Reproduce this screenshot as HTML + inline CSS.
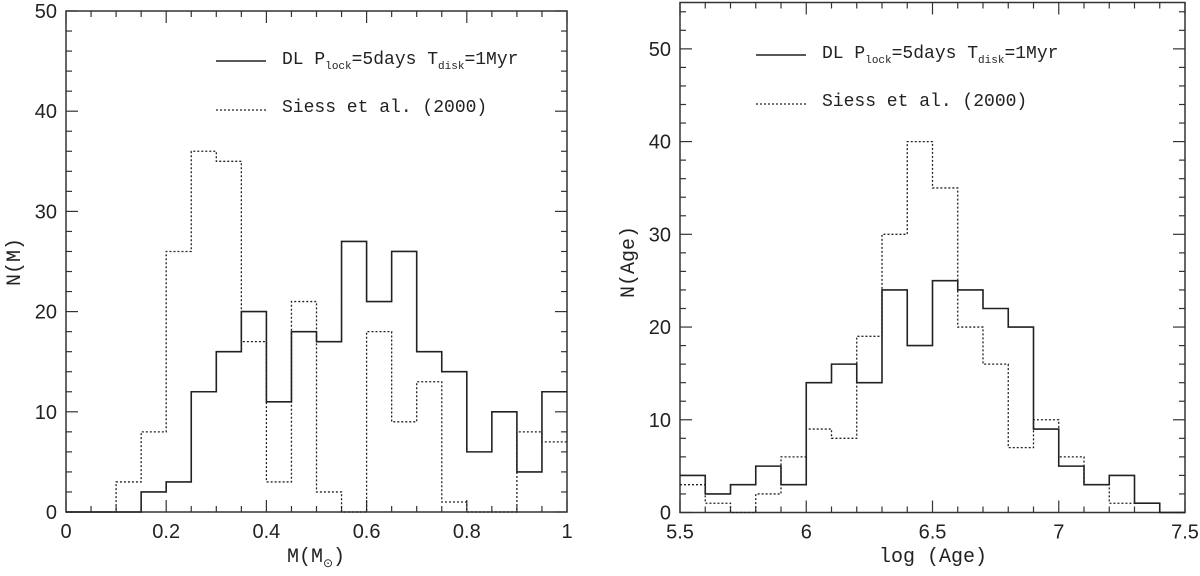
<!DOCTYPE html>
<html><head><meta charset="utf-8"><style>
body{margin:0;background:#fff;}
svg text{font-family:"Liberation Sans",sans-serif;fill:#222;}
.lab{font-family:"Liberation Serif",serif;}
.leg{font-family:"Liberation Mono",monospace;}
</style></head><body>
<svg id="svg" width="1200" height="571" xmlns="http://www.w3.org/2000/svg"></svg>
<script>
const massBins = [0,0.05,0.1,0.15,0.2,0.25,0.3,0.35,0.4,0.45,0.5,0.55,0.6,0.65,0.7,0.75,0.8,0.85,0.9,0.95];
const massDL = [0,0,0,2,3,12,16,20,11,18,17,27,21,26,16,14,6,10,4,12];
const massSiess = [0,0,3,8,26,36,35,17,3,21,2,0,18,9,13,1,0,0,8,7];
const ageBins = [5.5,5.6,5.7,5.8,5.9,6.0,6.1,6.2,6.3,6.4,6.5,6.6,6.7,6.8,6.9,7.0,7.1,7.2,7.3,7.4];
const ageDL = [4,2,3,5,3,14,16,14,24,18,25,24,22,20,9,5,3,4,1,0];
const ageSiess = [3,1,0,2,6,9,8,19,30,40,35,20,16,7,10,6,3,1,1,0];
const massXTicks = ["0","0.2","0.4","0.6","0.8","1"];
const massYTicks = ["0","10","20","30","40","50"];
const ageXTicks = ["5.5","6","6.5","7","7.5"];
const ageYTicks = ["0","10","20","30","40","50"];

const svg = document.getElementById('svg');
const NS = 'http://www.w3.org/2000/svg';
function mk(tag, attrs, parent){const e=document.createElementNS(NS,tag);for(const k in attrs)e.setAttribute(k,attrs[k]);(parent||svg).appendChild(e);return e;}

function panel(o){
  const g = mk('g',{});
  
  
  const sx = v => o.x0 + (v - o.xmin)/(o.xmax - o.xmin)*(o.x1 - o.x0);
  const sy = v => o.y1 - (v - o.ymin)/(o.ymax - o.ymin)*(o.y1 - o.y0);
  const frame = mk('rect',{x:o.x0,y:o.y0,width:o.x1-o.x0,height:o.y1-o.y0,fill:'none',stroke:'#333','stroke-width':1.5},g);
  
  
  const eps=1e-6;
  for(let v=o.xmin; v<=o.xmax+eps; v+=o.xminor){
    const major = Math.abs((v-o.xmin)/o.xmajor - Math.round((v-o.xmin)/o.xmajor))<1e-4;
    const L = major?12:6;
    const x=sx(v);
    mk('line',{x1:x,y1:o.y1,x2:x,y2:o.y1-L,stroke:'#333','stroke-width':1.2},g);
    mk('line',{x1:x,y1:o.y0,x2:x,y2:o.y0+L,stroke:'#333','stroke-width':1.2},g);
  }
  for(let v=o.ymin; v<=o.ymax+eps; v+=o.yminor){
    const major = Math.abs(v/o.ymajor - Math.round(v/o.ymajor))<1e-4;
    const L = major?12:6;
    const y=sy(v);
    mk('line',{x1:o.x0,y1:y,x2:o.x0+L,y2:y,stroke:'#333','stroke-width':1.2},g);
    mk('line',{x1:o.x1,y1:y,x2:o.x1-L,y2:y,stroke:'#333','stroke-width':1.2},g);
  }
  o.xt.forEach(t=>{
    const e=mk('text',{x:sx(parseFloat(t)),y:o.y1+26,'text-anchor':'middle','font-size':20},g);
    e.textContent=t;
    
    
  });
  o.yt.forEach(t=>{
    const e=mk('text',{x:o.x0-9,y:sy(parseFloat(t))+7,'text-anchor':'end','font-size':20},g);
    e.textContent=t;
    
    
  });
  function hist(bins, vals, w, dash, nm){
    let d='M'+sx(bins[0])+','+sy(vals[0]);
    for(let i=0;i<vals.length;i++){
      d+=' H'+sx(bins[i]+w);
      if(i+1<vals.length) d+=' V'+sy(vals[i+1]);
    }
    const p=mk('path',{d:d,fill:'none',stroke:'#222','stroke-width':dash?1.3:1.6,'stroke-dasharray':dash?'2,2':'none'},g);
    
    
  }
  hist(o.bins,o.s2,o.bw,true,'siess-histogram');
  hist(o.bins,o.s1,o.bw,false,'dl-histogram');
  const xl=mk('text',{x:o.xlx,y:562,'text-anchor':'middle','font-size':20,class:'leg'},g);
  xl.innerHTML=o.xlabel;
  
  
  const yl=mk('text',{x:0,y:0,'text-anchor':'middle','font-size':20,class:'leg',transform:'translate('+o.ylx+',262) rotate(-90)'},g);
  yl.textContent=o.ylabel;
  
  
  const l1=mk('line',{x1:o.lgx,y1:o.lgy,x2:o.lgx+50,y2:o.lgy,stroke:'#222','stroke-width':1.6},g);
  
  
  const t1=mk('text',{x:o.lgx+66,y:o.lgy+3,'font-size':18,class:'leg'},g);
  t1.innerHTML='DL P<tspan font-size="11" dy="5">lock</tspan><tspan dy="-5">=5days T</tspan><tspan font-size="11" dy="5">disk</tspan><tspan dy="-5">=1Myr</tspan>';
  
  
  const l2=mk('line',{x1:o.lgx,y1:o.lgy+49,x2:o.lgx+50,y2:o.lgy+49,stroke:'#222','stroke-width':1.2,'stroke-dasharray':'2,2'},g);
  
  
  const t2=mk('text',{x:o.lgx+66,y:o.lgy+51,'font-size':18,class:'leg'},g);
  t2.textContent='Siess et al. (2000)';
  
  
}
panel({name:'mass-panel',x0:66,x1:567,y0:11,y1:512,xmin:0,xmax:1,ymin:0,ymax:50,xminor:0.05,xmajor:0.2,yminor:2,ymajor:10,
  xt:massXTicks,yt:massYTicks,bins:massBins,bw:0.05,s1:massDL,s2:massSiess,
  xlabel:'M(M<tspan font-size="12" dy="5">⊙</tspan><tspan dy="-5">)</tspan>',xlx:316,ylabel:'N(M)',ylx:20,lgx:216,lgy:61});
panel({name:'age-panel',x0:680,x1:1185,y0:2.5,y1:512.5,xmin:5.5,xmax:7.5,ymin:0,ymax:55,xminor:0.1,xmajor:0.5,yminor:2,ymajor:10,
  xt:ageXTicks,yt:ageYTicks,bins:ageBins,bw:0.1,s1:ageDL,s2:ageSiess,
  xlabel:'log (Age)',xlx:933,ylabel:'N(Age)',ylx:634,lgx:756,lgy:55});
</script>
</body></html>
